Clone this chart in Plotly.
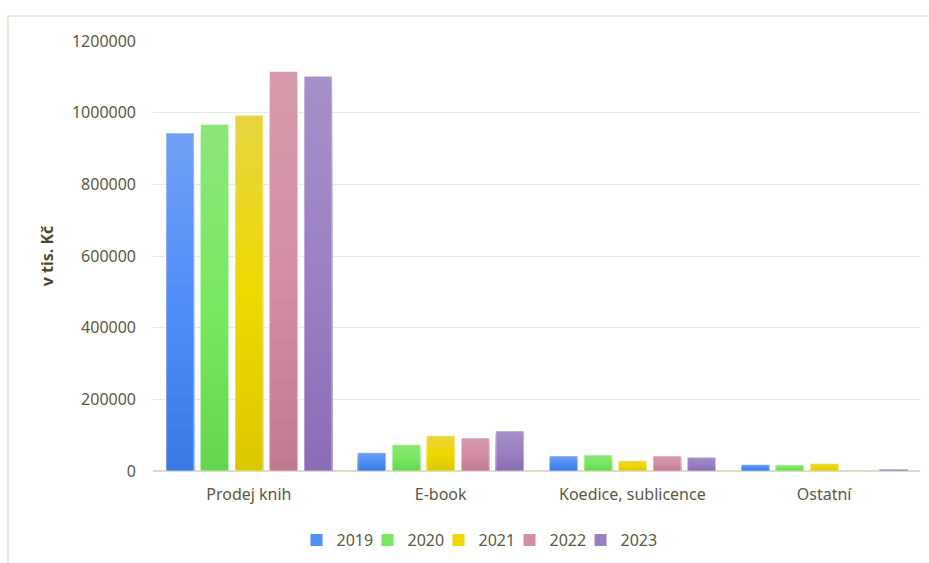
import plotly.graph_objects as go

# Revenue by channel, in thousands of CZK
categories = ["Prodej knih", "E-book", "Koedice, sublicence", "Ostatní"]
years = ["2019", "2020", "2021", "2022", "2023"]
v2019 = [943000, 51000, 42000, 17700]
v2020 = [967500, 73500, 44600, 16700]
v2021 = [992700, 98500, 28700, 20500]
v2022 = [1115000, 92000, 42000, None]
v2023 = [1101500, 111600, 38000, 4700]
series = [v2019, v2020, v2021, v2022, v2023]

y_ticks = [0, 200000, 400000, 600000, 800000, 1000000, 1200000]

# gradient stops per series: bottom, middle, top
stops = [
    ((58, 122, 230), (79, 142, 247), (112, 160, 245)),
    ((102, 214, 79), (122, 232, 99), (140, 230, 122)),
    ((220, 200, 0), (238, 217, 0), (232, 213, 64)),
    ((192, 122, 144), (212, 142, 164), (214, 155, 171)),
    ((138, 109, 180), (155, 128, 195), (166, 144, 200)),
]


def grad(c, t):
    lo, mid, hi = c
    if t <= 0.5:
        a, b, f = lo, mid, t / 0.5
    else:
        a, b, f = mid, hi, (t - 0.5) / 0.5
    r, g, bl = (round(a[i] + (b[i] - a[i]) * f) for i in range(3))
    return f"rgb({r},{g},{bl})"


N = 40
stride = 0.18
bar_w = 0.146
start = -0.432

fig = go.Figure()
for s, (name, vals) in enumerate(zip(years, series)):
    off = start + s * stride
    # stacked-down layers: each shorter bar is drawn over the previous one,
    # building a vertical gradient from dark (bottom) to light (top)
    for k in range(N):
        frac = (N - k) / N
        t = (N - k - 0.5) / N
        heights = [None if v is None else v * frac for v in vals]
        fig.add_trace(go.Bar(
            x=categories, y=heights, name=name,
            offset=off, width=bar_w,
            marker=dict(color=grad(stops[s], t), line=dict(width=0)),
            legendgroup=name, showlegend=(k == N // 2),
            hoverinfo="skip",
        ))
    # soft outline around each bar
    fig.add_trace(go.Bar(
        x=categories, y=vals, name=name,
        offset=off, width=bar_w,
        marker=dict(color="rgba(0,0,0,0)",
                    line=dict(width=1, color="rgba(255,255,255,0.55)")),
        legendgroup=name, showlegend=False,
    ))

# empty trailing legend slot so the last label has room in the legend box
fig.add_trace(go.Bar(x=[None], y=[None], name=" ",
                     marker=dict(color="rgba(0,0,0,0)", line=dict(width=0)),
                     showlegend=True, hoverinfo="skip"))

text_color = "#5a5a45"
fig.update_layout(
    width=929, height=563,
    margin=dict(l=153, r=9, t=41, b=92),
    paper_bgcolor="white", plot_bgcolor="white",
    barmode="overlay",
    font=dict(family="Noto Sans", size=16, color=text_color),
    showlegend=True,
    legend=dict(orientation="h", x=(296.5 - 153) / 767, xanchor="left",
                yref="container", y=(563 - 540) / 563, yanchor="middle",
                entrywidth=26, itemwidth=30,
                font=dict(size=16, color=text_color),
                itemclick=False, itemdoubleclick=False),
    xaxis=dict(showgrid=False, showline=False, zeroline=False,
               ticks="", ticklabelstandoff=12,
               tickfont=dict(size=16, color=text_color)),
    yaxis=dict(range=[0, 1200000], tickvals=y_ticks,
               ticktext=[str(t) for t in y_ticks],
               showgrid=True, gridcolor="#ebebd9", gridwidth=1,
               zeroline=True, zerolinecolor="#dcdcc8", zerolinewidth=1.5,
               showline=False, ticks="", ticklabelstandoff=16,
               tickfont=dict(size=16, color=text_color),
               title=dict(text="<b>v tis. Kč</b>", standoff=14,
                          font=dict(size=16, color="#4a4a32"))),
    shapes=[dict(type="rect", xref="paper", yref="paper",
                 x0=-145 / 767, x1=1.2, y0=-0.3, y1=1 + 25 / 430,
                 line=dict(color="#e6e6d4", width=1.5), layer="below")],
)

fig.write_html("out.html")
